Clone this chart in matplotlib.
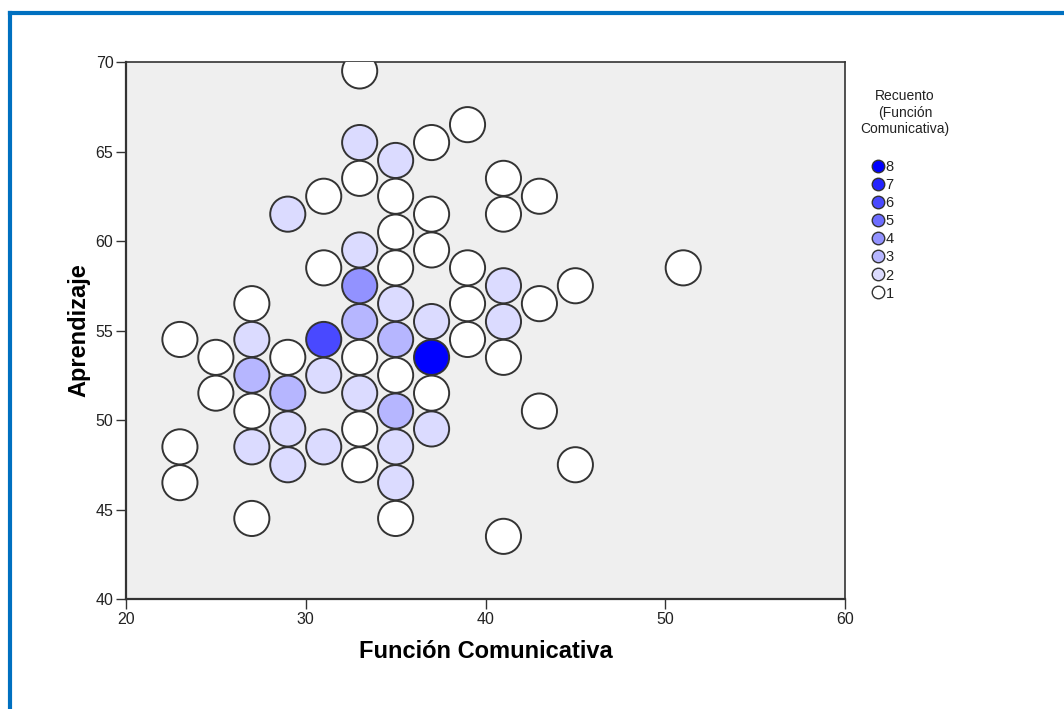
import matplotlib
matplotlib.use("Agg")
import matplotlib.pyplot as plt
from matplotlib.lines import Line2D
import numpy as np

# Binned scatter data: bin centers (Función Comunicativa, Aprendizaje) and counts
x_vals = [23, 23, 23,
          25, 25,
          27, 27, 27, 27, 27, 27,
          29, 29, 29, 29, 29,
          31, 31, 31, 31, 31,
          33, 33, 33, 33, 33, 33, 33, 33, 33, 33,
          35, 35, 35, 35, 35, 35, 35, 35, 35, 35, 35,
          37, 37, 37, 37, 37, 37, 37,
          39, 39, 39, 39,
          41, 41, 41, 41, 41, 41,
          43, 43, 43,
          45, 45,
          51]
y_vals = [54.5, 48.5, 46.5,
          53.5, 51.5,
          56.5, 54.5, 52.5, 50.5, 48.5, 44.5,
          61.5, 53.5, 51.5, 49.5, 47.5,
          62.5, 58.5, 54.5, 52.5, 48.5,
          69.5, 65.5, 63.5, 59.5, 57.5, 55.5, 53.5, 51.5, 49.5, 47.5,
          64.5, 62.5, 60.5, 58.5, 56.5, 54.5, 52.5, 50.5, 48.5, 46.5, 44.5,
          65.5, 61.5, 59.5, 55.5, 53.5, 51.5, 49.5,
          66.5, 58.5, 56.5, 54.5,
          63.5, 61.5, 57.5, 55.5, 53.5, 43.5,
          62.5, 56.5, 50.5,
          57.5, 47.5,
          58.5]
counts = [1, 1, 1,
          1, 1,
          1, 2, 3, 1, 2, 1,
          2, 1, 3, 2, 2,
          1, 1, 6, 2, 2,
          1, 2, 1, 2, 4, 3, 1, 2, 1, 1,
          2, 1, 1, 1, 2, 3, 1, 3, 2, 2, 1,
          1, 1, 1, 2, 8, 1, 2,
          1, 1, 1, 1,
          1, 1, 2, 2, 1, 1,
          1, 1, 1,
          1, 1,
          1]
legend_levels = [8, 7, 6, 5, 4, 3, 2, 1]

x_ticks = [20, 30, 40, 50, 60]
y_ticks = [40, 45, 50, 55, 60, 65, 70]

plt.rcParams['font.family'] = ['Liberation Sans', 'DejaVu Sans']

def count_color(c, cmax=8):
    f = (c - 1) / (cmax - 1)
    v = 1.0 - f
    return (v, v, 1.0)

W, H = 1064, 709
fig = plt.figure(figsize=(W/100, H/100), dpi=100)
ax = fig.add_axes([126/W, 1 - 599/H, (845-126)/W, (599-62)/H])
ax.set_facecolor('#efefef')

colors = [count_color(c) for c in counts]
ax.scatter(x_vals, y_vals, s=640, c=colors, edgecolors='#333333',
           linewidths=1.4, zorder=3, clip_on=True)

ax.set_xlim(20, 60)
ax.set_ylim(40, 70)
ax.set_xticks(x_ticks)
ax.set_yticks(y_ticks)
ax.tick_params(direction='out', length=7, width=1, colors='#333333',
               labelsize=11.5, pad=2)
for lab in ax.get_xticklabels() + ax.get_yticklabels():
    lab.set_color('#222222')
for sp in ax.spines.values():
    sp.set_color('#333333')
    sp.set_linewidth(1.2)
ax.spines['left'].set_linewidth(1.6)
ax.spines['bottom'].set_linewidth(1.6)

ax.set_xlabel('Función Comunicativa', fontsize=17, fontweight='bold', labelpad=10)
ax.set_ylabel('Aprendizaje', fontsize=17, fontweight='bold', labelpad=4)

# Legend title
fig.text(905/W, 1 - 89/H, 'Recuento\n(Función\nComunicativa)', ha='center',
         va='top', fontsize=10, linespacing=1.25, color='#222222',
         multialignment='center')

handles = [Line2D([], [], marker='o', linestyle='none', markersize=9,
                  markerfacecolor=count_color(c), markeredgecolor='#333333',
                  markeredgewidth=1.0) for c in legend_levels]
leg = fig.legend(handles, [str(c) for c in legend_levels],
                 loc='upper left', bbox_to_anchor=(871/W, 1 - 160/H),
                 frameon=False, fontsize=10.5, labelspacing=0.28,
                 handletextpad=0.0, handlelength=1.0, borderaxespad=0,
                 borderpad=0)
for t in leg.get_texts():
    t.set_color('#222222')

# Blue window frame (top and left)
fig.add_artist(Line2D([10/W, 1], [1 - 13/H, 1 - 13/H],
                      transform=fig.transFigure, color='#0070c0', linewidth=3))
fig.add_artist(Line2D([10/W, 10/W], [0, 1 - 13/H],
                      transform=fig.transFigure, color='#0070c0', linewidth=3))

fig.savefig('out.png', dpi=100)
